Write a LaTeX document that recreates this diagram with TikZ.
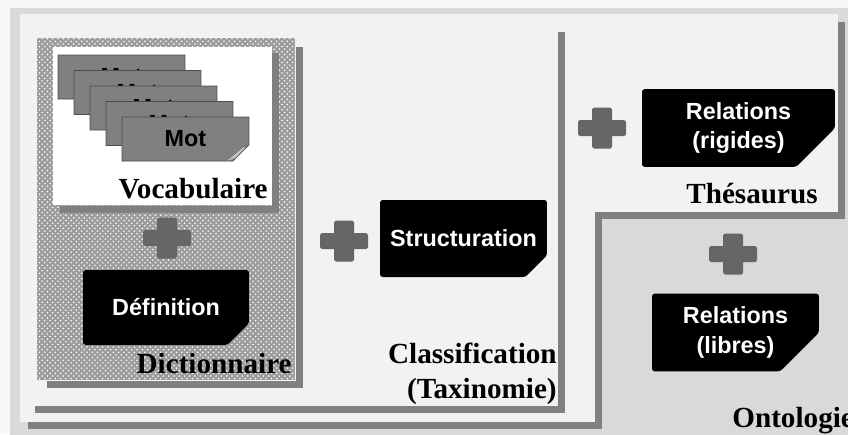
\documentclass[tikz,border=0pt]{standalone}
\usepackage{fontspec}
\setmainfont{Liberation Serif}
\newfontfamily\etiqfont{Liberation Sans}
\usetikzlibrary{shapes.misc,patterns}

\definecolor{fond}{HTML}{F7F7F7}
\definecolor{clair}{HTML}{F2F2F2}
\definecolor{ontogris}{HTML}{D9D9D9}
\definecolor{ombregris}{HTML}{808080}
\definecolor{croixgris}{HTML}{666666}
\definecolor{cartegris}{HTML}{808080}
\definecolor{hachure}{HTML}{9C9C9C}

\tikzset{
  ombrage/.style={draw=ombregris, line width=0.14cm},
  titre/.style={font=\bfseries\fontsize{16.6}{19}\selectfont, inner sep=0pt},
  etiquette/.style={chamfered rectangle, chamfered rectangle corners=south east,
    chamfered rectangle xsep=0.64cm, chamfered rectangle ysep=0.26cm,
    fill=black, text=white, align=center, inner sep=0pt, rounded corners=1.5pt,
    font=\etiqfont\bfseries\fontsize{13.3}{17}\selectfont},
  carte/.style={chamfered rectangle, chamfered rectangle corners=south east,
    chamfered rectangle xsep=0.44cm, chamfered rectangle ysep=0.16cm,
    fill=cartegris, draw=gray!60!black, inner sep=0pt,
    minimum width=2.54cm, minimum height=0.88cm,
    font=\etiqfont\bfseries\fontsize{13.3}{16}\selectfont,
    path picture={\fill[gray!45] (path picture bounding box.south east)
      ++(-0.44cm,0) -- ++(0.44cm,0.16cm) -- ++(-0.10cm,0.12cm) -- cycle;}},
  croix/.pic={\fill[croixgris, rounded corners=1pt]
    (-24,-8) rectangle (24,8) (-10,-20.5) rectangle (10,20.5);}
}

\begin{document}
\begin{tikzpicture}[x=0.02cm, y=-0.02cm]
    \useasboundingbox (0,0) rectangle (848,434);
    \fill[fond] (0,0) rectangle (848,434);

    % ontologie, thesaurus, classification
    \fill[ontogris] (10,8) rectangle (870,450);
    \fill[clair] (20,14) -- (838,14) -- (838,212) -- (595,212) -- (595,422) -- (20,422) -- cycle;
    \draw[ombrage] (841.5,22) -- (841.5,215) -- (598.5,215) -- (598.5,425) -- (28,425);
    \draw[ombrage] (561.5,32) -- (561.5,409) -- (35,409);

    % dictionnaire et vocabulaire
    \fill[hachure] (37,38) rectangle (295,380);
    \fill[pattern=crosshatch dots, pattern color=white] (37,38) rectangle (295,380);
    \draw[ombrage] (299,47) -- (299,384) -- (47,384);
    \fill[white] (53,47) rectangle (272,205);
    \draw[ombrage] (275.5,53) -- (275.5,209) -- (60,209);

    \foreach \i in {0,...,4}
        \node[carte] (mot\i) at ({121.5+16*\i},{77+15.5*\i}) {Mot};

    \pic at (167,238) {croix};
    \pic at (344,241) {croix};
    \pic at (602,128) {croix};
    \pic at (733,254) {croix};

    \node[etiquette, minimum width=3.32cm, minimum height=1.5cm] (definition) at (166,307.5) {Définition};
    \node[etiquette, minimum width=3.34cm, minimum height=1.54cm] (structuration) at (463.5,238.5) {Structuration};
    \node[etiquette, minimum width=3.86cm, minimum height=1.52cm] (rigides) at (738.5,128) {Relations\\(rigides)};
    \node[etiquette, minimum width=3.34cm, minimum height=1.5cm] (libres) at (735.5,332.5) {Relations\\(libres)};

    \node[titre, anchor=base east] (vocabulaire) at (268,198) {Vocabulaire};
    \node[titre, anchor=base east] (dictionnaire) at (292,373) {Dictionnaire};
    \node[titre, anchor=base east] (classification) at (557,363) {Classification};
    \node[titre, anchor=base east] (taxinomie) at (557,398) {(Taxinomie)};
    \node[titre, anchor=base east] (thesaurus) at (818,203) {Thésaurus};
    \node[titre, anchor=base west] (ontologie) at (732,427) {Ontologie};
\end{tikzpicture}
\end{document}
